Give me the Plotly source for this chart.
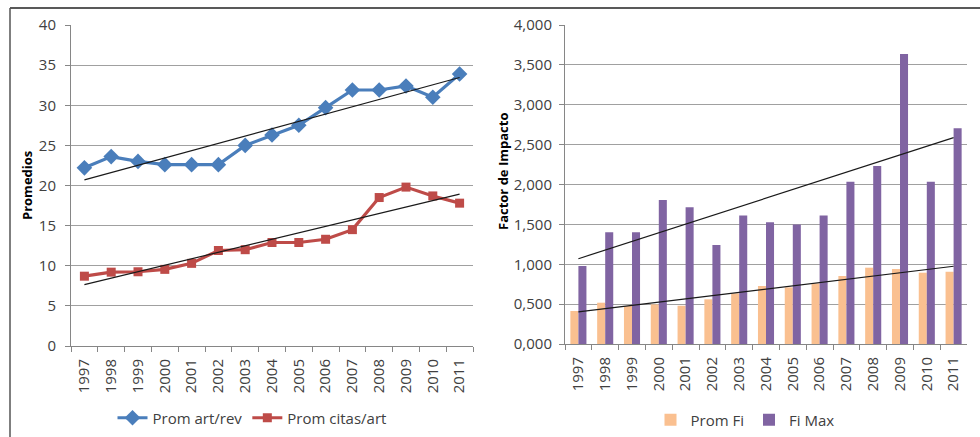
import numpy as np
import plotly.graph_objects as go

years = ["1997", "1998", "1999", "2000", "2001", "2002", "2003", "2004",
         "2005", "2006", "2007", "2008", "2009", "2010", "2011"]
prom_art_rev = [22.2, 23.6, 23.0, 22.6, 22.6, 22.6, 25.0, 26.3, 27.5, 29.7,
                31.9, 31.9, 32.4, 31.0, 33.9]
prom_citas_art = [8.7, 9.2, 9.25, 9.55, 10.3, 11.9, 12.0, 12.9, 12.9, 13.3,
                  14.5, 18.5, 19.8, 18.7, 17.8]
prom_fi = [0.414, 0.518, 0.476, 0.497, 0.480, 0.560, 0.635, 0.727, 0.710,
           0.760, 0.853, 0.957, 0.940, 0.894, 0.906]
fi_max = [0.978, 1.400, 1.400, 1.806, 1.716, 1.240, 1.612, 1.526, 1.500,
          1.612, 2.035, 2.232, 3.636, 2.035, 2.705]

W, H = 980, 437


def px(x):
    return x / W


def py(y):
    return 1 - y / H


def trend(vals):
    idx = np.arange(len(vals))
    m, b = np.polyfit(idx, vals, 1)
    return [b, m * (len(vals) - 1) + b]


BLUE = "#4A7EBB"
RED = "#BE4B48"
ORANGE = "#FAC090"
PURPLE = "#8064A2"
GRID = "#A0A0A0"
AXIS = "#868686"
TXT = "#404040"
FONT = "Open Sans"

fig = go.Figure()

fig.add_trace(go.Scatter(x=years, y=prom_art_rev, name="Prom art/rev", mode="lines+markers",
                         line=dict(color=BLUE, width=3.2),
                         marker=dict(symbol="diamond", size=12, color=BLUE),
                         xaxis="x", yaxis="y", legend="legend"))
fig.add_trace(go.Scatter(x=years, y=prom_citas_art, name="Prom citas/art", mode="lines+markers",
                         line=dict(color=RED, width=3.2),
                         marker=dict(symbol="square", size=9, color=RED),
                         xaxis="x", yaxis="y", legend="legend"))
for vals in (prom_art_rev, prom_citas_art):
    fig.add_trace(go.Scatter(x=[years[0], years[-1]], y=trend(vals), mode="lines",
                             line=dict(color="#1a1a1a", width=1.2), showlegend=False,
                             hoverinfo="skip", xaxis="x", yaxis="y"))

fig.add_trace(go.Bar(x=years, y=prom_fi, name="Prom Fi", marker=dict(color=ORANGE, line_width=0),
                     xaxis="x2", yaxis="y2", legend="legend2"))
fig.add_trace(go.Bar(x=years, y=fi_max, name="Fi Max", marker=dict(color=PURPLE, line_width=0),
                     xaxis="x2", yaxis="y2", legend="legend2"))
for vals in (fi_max, prom_fi):
    fig.add_trace(go.Scatter(x=[years[0], years[-1]], y=trend(vals), mode="lines",
                             line=dict(color="#1a1a1a", width=1.2), showlegend=False,
                             hoverinfo="skip", xaxis="x2", yaxis="y2"))

xcommon = dict(type="category", range=[-0.5, 14.5], showgrid=False, showline=True,
               linecolor=AXIS, linewidth=1, ticks="outside", tickson="boundaries",
               ticklen=5, tickcolor=AXIS, tickangle=-90, automargin=False,
               ticklabelstandoff=6,
               tickfont=dict(family=FONT, size=15, color=TXT), fixedrange=True)
ycommon = dict(showgrid=True, gridcolor=GRID, gridwidth=1, showline=True, linecolor=AXIS,
               linewidth=1, ticks="outside", ticklen=5, tickcolor=AXIS, zeroline=False,
               automargin=False,
               tickfont=dict(family=FONT, size=15, color=TXT), fixedrange=True)

fig.update_layout(
    width=W, height=H,
    margin=dict(l=0, r=0, t=0, b=0, autoexpand=False),
    paper_bgcolor="white", plot_bgcolor="white",
    separators=",.",
    barmode="group", bargap=0.4, bargroupgap=0,
    xaxis=dict(domain=[px(71), px(473)], anchor="y", **xcommon),
    yaxis=dict(domain=[py(346), py(25)], anchor="x", range=[0, 40], dtick=5,
               ticklabelstandoff=6, **ycommon),
    xaxis2=dict(domain=[px(565), px(967)], anchor="y2", **xcommon),
    yaxis2=dict(domain=[py(344), py(25)], anchor="x2", range=[0, 4], dtick=0.5,
                tickformat=".3f", ticklabelstandoff=4, **ycommon),
    legend=dict(orientation="h", x=px(252), y=py(418), xanchor="center", yanchor="middle",
                font=dict(family=FONT, size=15, color=TXT), bgcolor="rgba(0,0,0,0)",
                itemwidth=30),
    legend2=dict(orientation="h", x=px(745), y=py(420), xanchor="center", yanchor="middle",
                 font=dict(family=FONT, size=15, color=TXT), bgcolor="rgba(0,0,0,0)",
                 itemwidth=30),
    showlegend=True,
    annotations=[
        dict(text="<b>Promedios</b>", textangle=-90, x=px(27), y=py(186), xref="paper",
             yref="paper", xanchor="center", yanchor="middle", showarrow=False,
             font=dict(family=FONT, size=13, color="black")),
        dict(text="<b>Factor de Impacto</b>", textangle=-90, x=px(503), y=py(172), xref="paper",
             yref="paper", xanchor="center", yanchor="middle", showarrow=False,
             font=dict(family=FONT, size=13, color="black")),
    ],
    shapes=[
        dict(type="line", xref="paper", yref="paper", x0=px(10), x1=1, y0=py(8), y1=py(8),
             line=dict(color="#222222", width=1.5)),
        dict(type="line", xref="paper", yref="paper", x0=px(10), x1=px(10), y0=0, y1=py(8),
             line=dict(color="#555555", width=1.5)),
    ],
)

fig.write_html("out.html", config={"displayModeBar": False},
               post_script="document.body.style.margin='0';document.body.style.overflow='hidden';")
